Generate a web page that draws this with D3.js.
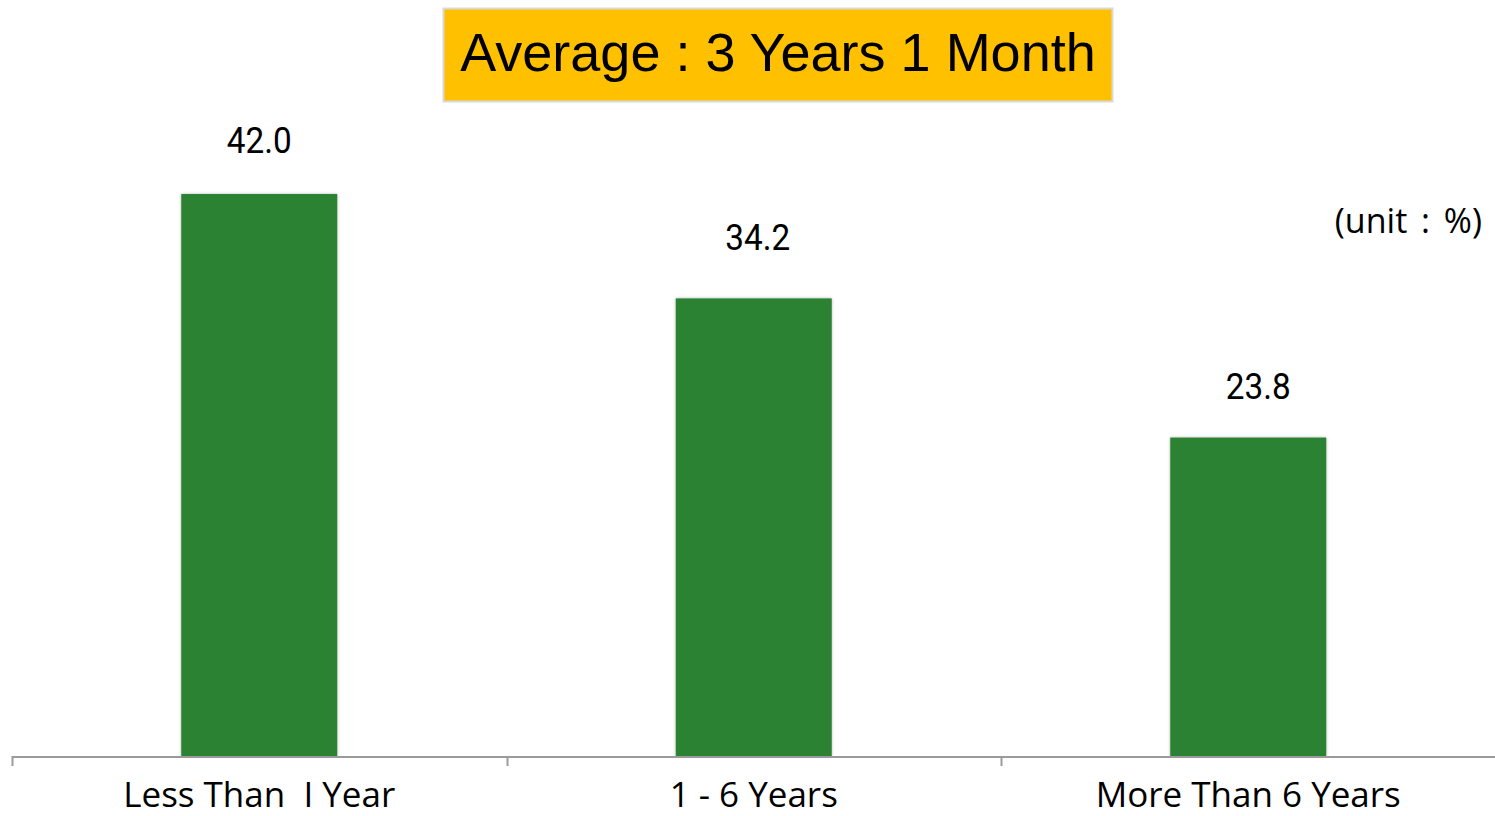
<!DOCTYPE html>
<html>
<head>
<meta charset="utf-8">
<script src="https://cdn.jsdelivr.net/npm/d3@7"></script>
<style>
  html, body { margin: 0; padding: 0; background: #ffffff; }
  svg { display: block; }
</style>
</head>
<body>
<svg id="chart" width="1495" height="816"></svg>
<script>
// Tenure distribution (%)
const categories = ["Less Than  I Year", "1 - 6 Years", "More Than 6 Years"];
const values = [42.0, 34.2, 23.8];
const valueLabels = ["42.0", "34.2", "23.8"];
const titleText = "Average : 3 Years 1 Month";
const unitText = "(unit : %)";

const W = 1495;
const baseY = 756;

const svg = d3.select("#chart");

const defs = svg.append("defs");
const shadow = defs.append("filter").attr("id", "barShadow")
  .attr("x", "-10%").attr("y", "-10%").attr("width", "120%").attr("height", "120%");
shadow.append("feDropShadow")
  .attr("dx", 0).attr("dy", 0).attr("stdDeviation", 1.6)
  .attr("flood-color", "#000").attr("flood-opacity", 0.3);

const x = d3.scaleBand()
  .domain(categories)
  .range([12, W + 0.5])
  .paddingInner(0)
  .paddingOuter(0);

const y = d3.scaleLinear()
  .domain([0, 50])
  .range([baseY, baseY - 669]);

const barW = 156;
const cx = c => x(c) + x.bandwidth() / 2;

// bars
svg.append("g").selectAll("rect")
  .data(values)
  .join("rect")
  .attr("x", (d, i) => cx(categories[i]) - barW / 2)
  .attr("y", d => y(d))
  .attr("width", barW)
  .attr("height", d => y(0) - y(d))
  .attr("fill", "#2b8230")
  .attr("filter", "url(#barShadow)");

// value labels, nudged per bar (dx, gap above bar top)
const labelNudge = [[0, 41], [4, 48], [10, 39]];
svg.append("g").selectAll("text")
  .data(values)
  .join("text")
  .attr("transform", (d, i) =>
    `translate(${cx(categories[i]) + labelNudge[i][0]},${y(d) - labelNudge[i][1]}) scale(0.9,1)`)
  .attr("text-anchor", "middle")
  .attr("font-family", "Roboto, 'Noto Sans', sans-serif")
  .attr("font-size", 37)
  .attr("fill", "#000")
  .text((d, i) => valueLabels[i]);

// category axis
const axis = d3.axisBottom(x).tickSize(0).tickPadding(0);
const gAxis = svg.append("g").attr("transform", `translate(0,${baseY})`).call(axis);
gAxis.select(".domain").remove();
gAxis.selectAll(".tick line").remove();
gAxis.selectAll(".tick text")
  .attr("y", 51)
  .attr("dy", 0)
  .attr("font-family", "'Open Sans', 'Noto Sans', sans-serif")
  .attr("font-size", 35)
  .attr("fill", "#000")
  .style("white-space", "pre")
  .attr("xml:space", "preserve");

svg.append("line")
  .attr("x1", 12).attr("x2", W)
  .attr("y1", baseY + 1).attr("y2", baseY + 1)
  .attr("stroke", "#9a9a9a").attr("stroke-width", 2);

// band separators
const bounds = categories.map(c => x(c));
svg.append("g").selectAll("line")
  .data(bounds)
  .join("line")
  .attr("x1", d => Math.round(d) + 0.5).attr("x2", d => Math.round(d) + 0.5)
  .attr("y1", baseY).attr("y2", baseY + 10)
  .attr("stroke", "#9a9a9a").attr("stroke-width", 2);

// title box
const tg = svg.append("g");
tg.append("rect")
  .attr("x", 443.5).attr("y", 8.5).attr("width", 669).attr("height", 93)
  .attr("fill", "#ffc000").attr("stroke", "#d9d9d9").attr("stroke-width", 2);
tg.append("text")
  .attr("x", 778).attr("y", 71)
  .attr("text-anchor", "middle")
  .attr("font-family", "'Liberation Sans', Arial, sans-serif")
  .attr("font-size", 54)
  .attr("fill", "#000")
  .text(titleText);

// unit note
svg.append("text")
  .attr("x", 1482).attr("y", 233)
  .attr("text-anchor", "end")
  .attr("font-family", "'Open Sans', 'Noto Sans', sans-serif")
  .attr("font-size", 34)
  .attr("word-spacing", 5)
  .attr("fill", "#000")
  .text(unitText);
</script>
</body>
</html>
